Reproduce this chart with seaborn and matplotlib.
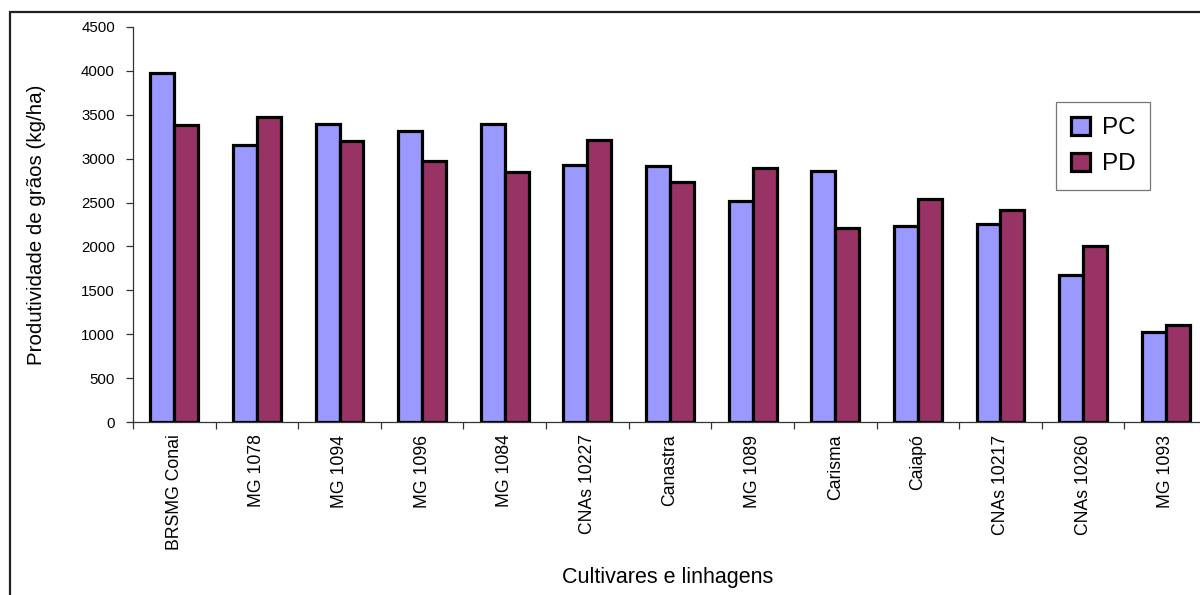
import numpy as np
import pandas as pd
import matplotlib
matplotlib.use("Agg")
import matplotlib.pyplot as plt
from matplotlib.patches import Patch, Rectangle
from matplotlib.ticker import FixedLocator
import seaborn as sns

# Grain yield (kg/ha) of bean cultivars and lines under two tillage systems
cultivares = ["BRSMG Conai", "MG 1078", "MG 1094", "MG 1096", "MG 1084",
              "CNAs 10227", "Canastra", "MG 1089", "Carisma", "Caiapó",
              "CNAs 10217", "CNAs 10260", "MG 1093"]
sistemas = ["PC", "PD"]
prod_pc = [3980, 3150, 3400, 3315, 3390, 2930, 2920, 2520, 2855, 2230, 2250, 1670, 1020]
prod_pd = [3380, 3475, 3205, 2975, 2850, 3215, 2730, 2895, 2210, 2535, 2420, 2000, 1105]
y_ticks = [0, 500, 1000, 1500, 2000, 2500, 3000, 3500, 4000, 4500]

cores = {"PC": "#9999FF", "PD": "#993366"}

df = pd.DataFrame({
    "Cultivar": cultivares * 2,
    "Sistema": ["PC"] * len(cultivares) + ["PD"] * len(cultivares),
    "Produtividade": prod_pc + prod_pd,
})

sns.set_style("white")
plt.rcParams["font.family"] = ["Liberation Sans", "DejaVu Sans"]
plt.rcParams["text.color"] = "black"
plt.rcParams["axes.labelcolor"] = "black"
plt.rcParams["xtick.color"] = "black"
plt.rcParams["ytick.color"] = "black"

W, H = 1200, 595
fig = plt.figure(figsize=(W / 100, H / 100), dpi=100)
ax = fig.add_axes([133 / W, (H - 422) / H, (1207 - 133) / W, (422 - 27) / H])

sns.barplot(data=df, x="Cultivar", y="Produtividade", hue="Sistema",
            order=cultivares, hue_order=sistemas, palette=cores,
            width=0.58, saturation=1, edgecolor="black", linewidth=2.3,
            errorbar=None, legend=False, ax=ax)

ax.set_xlim(-0.5, len(cultivares) - 0.5)
ax.set_ylim(0, 4500)
ax.set_yticks(y_ticks)
ax.set_yticklabels([str(v) for v in y_ticks], fontsize=10.8)

# category names centred under each group, tick marks on group boundaries
ax.set_xticks(np.arange(len(cultivares)))
ax.set_xticklabels(cultivares, rotation=90, fontsize=12.7, va="top", ha="center")
ax.xaxis.set_minor_locator(FixedLocator(np.arange(len(cultivares) + 1) - 0.5))
ax.tick_params(axis="x", which="major", bottom=True, length=0, pad=9)
ax.tick_params(axis="x", which="minor", bottom=True, length=5, width=0.9,
               color="#333333", direction="out")
ax.tick_params(axis="y", which="major", left=True, length=5, width=0.9,
               color="#333333", direction="out", pad=8)

for s in ["top", "right"]:
    ax.spines[s].set_visible(False)
for s in ["left", "bottom"]:
    ax.spines[s].set_color("#333333")
    ax.spines[s].set_linewidth(0.9)

ax.set_xlabel("Cultivares e linhagens", fontsize=15.5)
ax.set_ylabel("Produtividade de grãos (kg/ha)", fontsize=14.8)
ax.xaxis.set_label_coords(0.498, -0.367)
ax.yaxis.set_label_coords(-0.081, 0.5)

handles = [Patch(facecolor=cores[s], edgecolor="black", linewidth=2.3) for s in sistemas]
leg = fig.legend(handles, sistemas, loc="upper left",
                 bbox_to_anchor=(1056 / W, 1 - 102 / H),
                 fontsize=17.5, frameon=True, fancybox=False, shadow=False,
                 handlelength=0.8, handleheight=0.8, handletextpad=0.5,
                 labelspacing=0.55, borderpad=0.6, borderaxespad=0)
leg.get_frame().set_edgecolor("#555555")
leg.get_frame().set_linewidth(0.9)

# chart frame (open on the right and bottom)
fig.add_artist(Rectangle((10 / W, -0.1), 2, (H - 12) / H + 0.1,
                         transform=fig.transFigure, fill=False,
                         edgecolor="#222222", linewidth=1.6))

fig.savefig("out.png", dpi=100)
